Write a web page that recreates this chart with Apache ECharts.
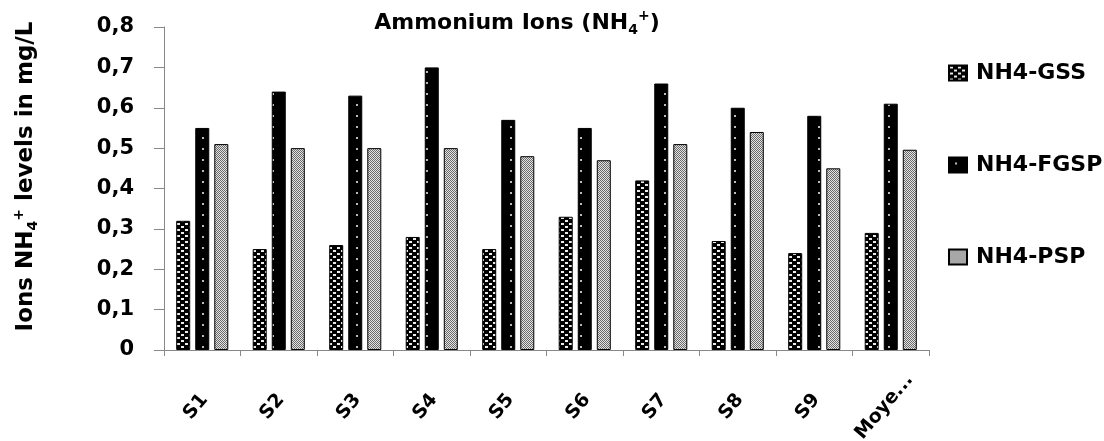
<!DOCTYPE html>
<html>
<head>
<meta charset="utf-8">
<script src="https://cdn.jsdelivr.net/npm/echarts@6/dist/echarts.min.js"></script>
<style>html,body{margin:0;padding:0;background:#fff}#c{width:1104px;height:441px}</style>
</head>
<body>
<div id="c"></div>
<script>
var categories = ['S1','S2','S3','S4','S5','S6','S7','S8','S9','Moye...'];
var gss  = [0.32,0.25,0.26,0.28,0.25,0.33,0.42,0.27,0.24,0.29];
var fgsp = [0.55,0.64,0.63,0.70,0.57,0.55,0.66,0.60,0.58,0.61];
var psp  = [0.51,0.50,0.50,0.50,0.48,0.47,0.51,0.54,0.45,0.496];
var seriesNames = ['NH4-GSS','NH4-FGSP','NH4-PSP'];

function tile(w,h,draw){var c=document.createElement('canvas');c.width=w;c.height=h;var g=c.getContext('2d');draw(g);return c;}
var patGSS = tile(8,6,function(g){g.fillStyle='#000';g.fillRect(0,0,8,6);g.fillStyle='#ececec';g.fillRect(1,1,3,2);g.fillRect(5,4,3,2);});
var patFGSP = tile(14,11,function(g){g.fillStyle='#000';g.fillRect(0,0,14,11);g.fillStyle='#bbb';g.fillRect(6,5,2,2);});
var patPSP = tile(2,2,function(g){g.fillStyle='#e4e4e4';g.fillRect(0,0,2,2);g.fillStyle='#6a6a6a';g.fillRect(0,0,1,1);g.fillRect(1,1,1,1);});

var FONT = '"DejaVu Sans", sans-serif';
var chart = echarts.init(document.getElementById('c'));
function mk(name,data,pat){
  return {name:name,type:'bar',data:data,barWidth:14,barGap:'36%',
    itemStyle:{color:{image:pat,repeat:'repeat'},borderColor:'#000',borderWidth:1}};
}
chart.setOption({
  animation:false,
  backgroundColor:'#fff',
  title:{left:512,textAlign:'center',top:4,
    text:'{a|Ammonium Ions (NH}{s|4}{p|+}{a|)}',
    textStyle:{fontSize:22,fontFamily:FONT,fontWeight:'bold',rich:{
      a:{fontFamily:FONT,fontWeight:'bold',fontSize:22,color:'#000',lineHeight:28},
      s:{fontFamily:FONT,fontWeight:'bold',fontSize:14,color:'#000',verticalAlign:'bottom',lineHeight:18},
      p:{fontFamily:FONT,fontWeight:'bold',fontSize:14,color:'#000',verticalAlign:'top',lineHeight:18}
    }}},
  legend:{orient:'vertical',left:943,top:57,itemWidth:18,itemHeight:15,itemGap:70,icon:'rect',
    data:seriesNames,
    textStyle:{fontFamily:FONT,fontWeight:'bold',fontSize:22,color:'#000',padding:[0,0,0,4]}},
  grid:{left:164,right:175,top:27,bottom:91,containLabel:false,outerBoundsMode:'none'},
  xAxis:{type:'category',data:categories,
    axisLine:{lineStyle:{color:'#888',width:1}},
    axisTick:{show:true,length:6,lineStyle:{color:'#888'}},
    axisLabel:{rotate:50,margin:49,align:'center',verticalAlign:'middle',padding:[0,20,0,0],
      fontFamily:FONT,fontWeight:'bold',fontSize:19,color:'#000'}},
  yAxis:{type:'value',min:0,max:0.8,interval:0.1,
    name:'{a|Ions NH}{s|4}{p|+}{a| levels in mg/L}',
    nameLocation:'middle',nameGap:124,nameRotate:90,
    nameTextStyle:{fontSize:23,fontFamily:FONT,fontWeight:'bold',padding:[0,0,0,24],rich:{
      a:{fontFamily:FONT,fontWeight:'bold',fontSize:23,color:'#000',lineHeight:28},
      s:{fontFamily:FONT,fontWeight:'bold',fontSize:14,color:'#000',verticalAlign:'bottom',lineHeight:18},
      p:{fontFamily:FONT,fontWeight:'bold',fontSize:14,color:'#000',verticalAlign:'top',lineHeight:18}
    }},
    splitLine:{show:false},
    axisLine:{show:true,lineStyle:{color:'#888',width:1}},
    axisTick:{show:true,length:10,lineStyle:{color:'#888'}},
    axisLabel:{margin:30,fontFamily:FONT,fontWeight:'bold',fontSize:21,color:'#000',
      formatter:function(v){return v===0?'0':v.toFixed(1).replace('.',',');}}},
  series:[mk(seriesNames[0],gss,patGSS),mk(seriesNames[1],fgsp,patFGSP),mk(seriesNames[2],psp,patPSP)]
});
</script>
</body>
</html>
